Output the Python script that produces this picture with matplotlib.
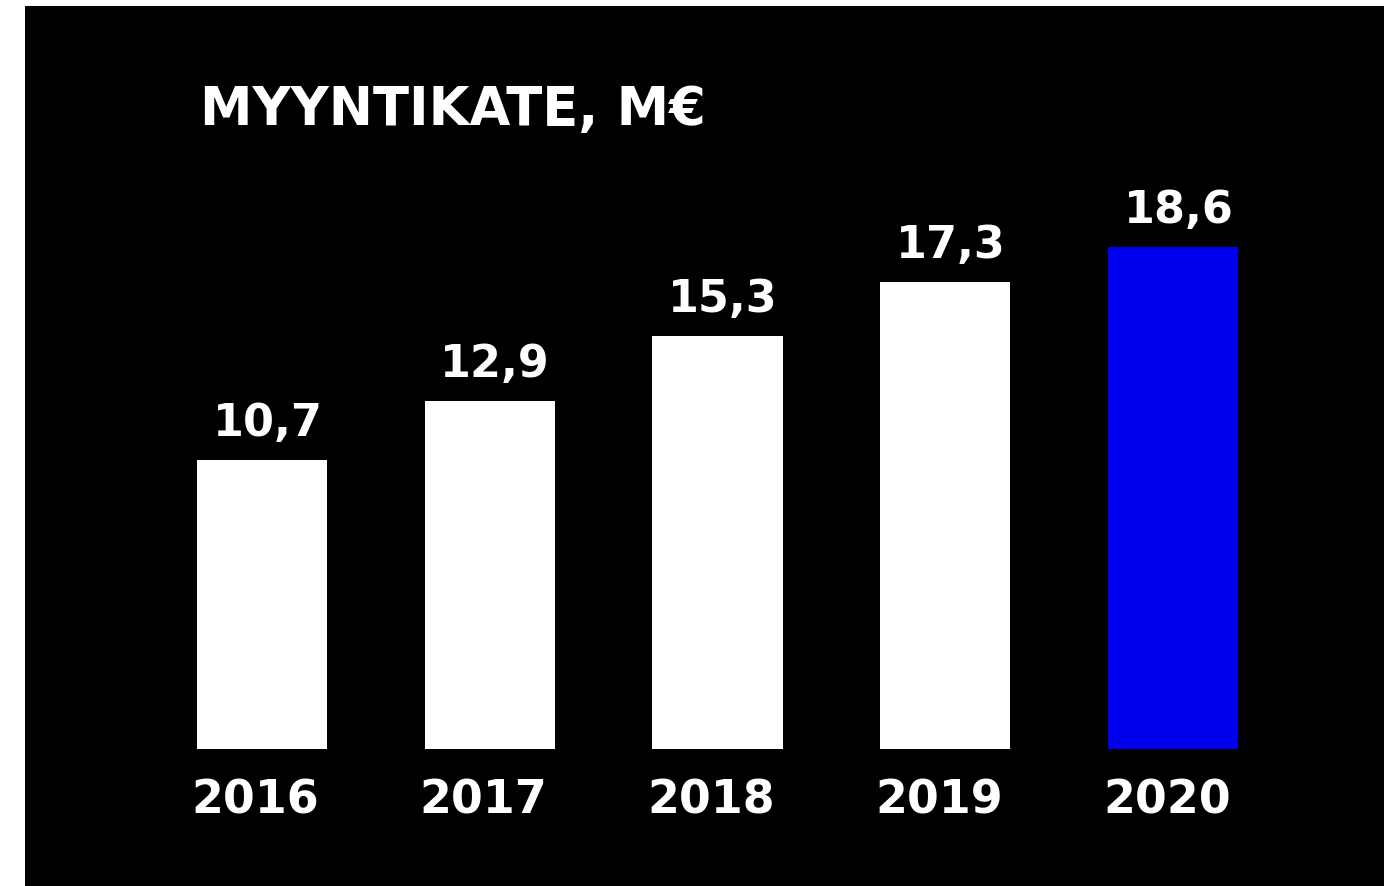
import matplotlib
matplotlib.use("Agg")
import matplotlib.pyplot as plt
from matplotlib.patches import Rectangle

years = ["2016", "2017", "2018", "2019", "2020"]
values = [10.7, 12.9, 15.3, 17.3, 18.6]
labels = ["10,7", "12,9", "15,3", "17,3", "18,6"]
colors = ["#ffffff", "#ffffff", "#ffffff", "#ffffff", "#0000f0"]
title = "MYYNTIKATE, M€"

W, H = 1384, 886
fig = plt.figure(figsize=(W / 100, H / 100), dpi=100, facecolor="white")
fig.patches.append(Rectangle((25 / W, 0), 1 - 25 / W, (H - 6) / H,
                             transform=fig.transFigure, facecolor="black",
                             edgecolor="none", zorder=-5))

ax = fig.add_axes([148 / W, (H - 749) / H, 1139 / W, 540 / H])
ax.set_zorder(1)
ax.patch.set_alpha(0)
ax.bar(range(len(years)), values, width=0.571, color=colors)
ax.set_xlim(-0.5, 4.5)
ax.set_ylim(0, 20)
ax.axis("off")

font = dict(family="DejaVu Sans", weight="bold", color="white")
for i, (v, lab) in enumerate(zip(values, labels)):
    ax.annotate(lab, xy=(i, v), xytext=(4, 17.3), textcoords="offset points",
                ha="center", va="baseline", fontsize=32, annotation_clip=False, **font)
    ax.annotate(years[i], xy=(i, 0), xytext=(-4.5, -46.8), textcoords="offset points",
                ha="center", va="baseline", fontsize=33, annotation_clip=False, **font)

fig.text(200 / W, 1 - 125 / H, title, ha="left", va="baseline", fontsize=38,
         zorder=3, **font)

fig.savefig("out.png", dpi=100, facecolor=fig.get_facecolor())
